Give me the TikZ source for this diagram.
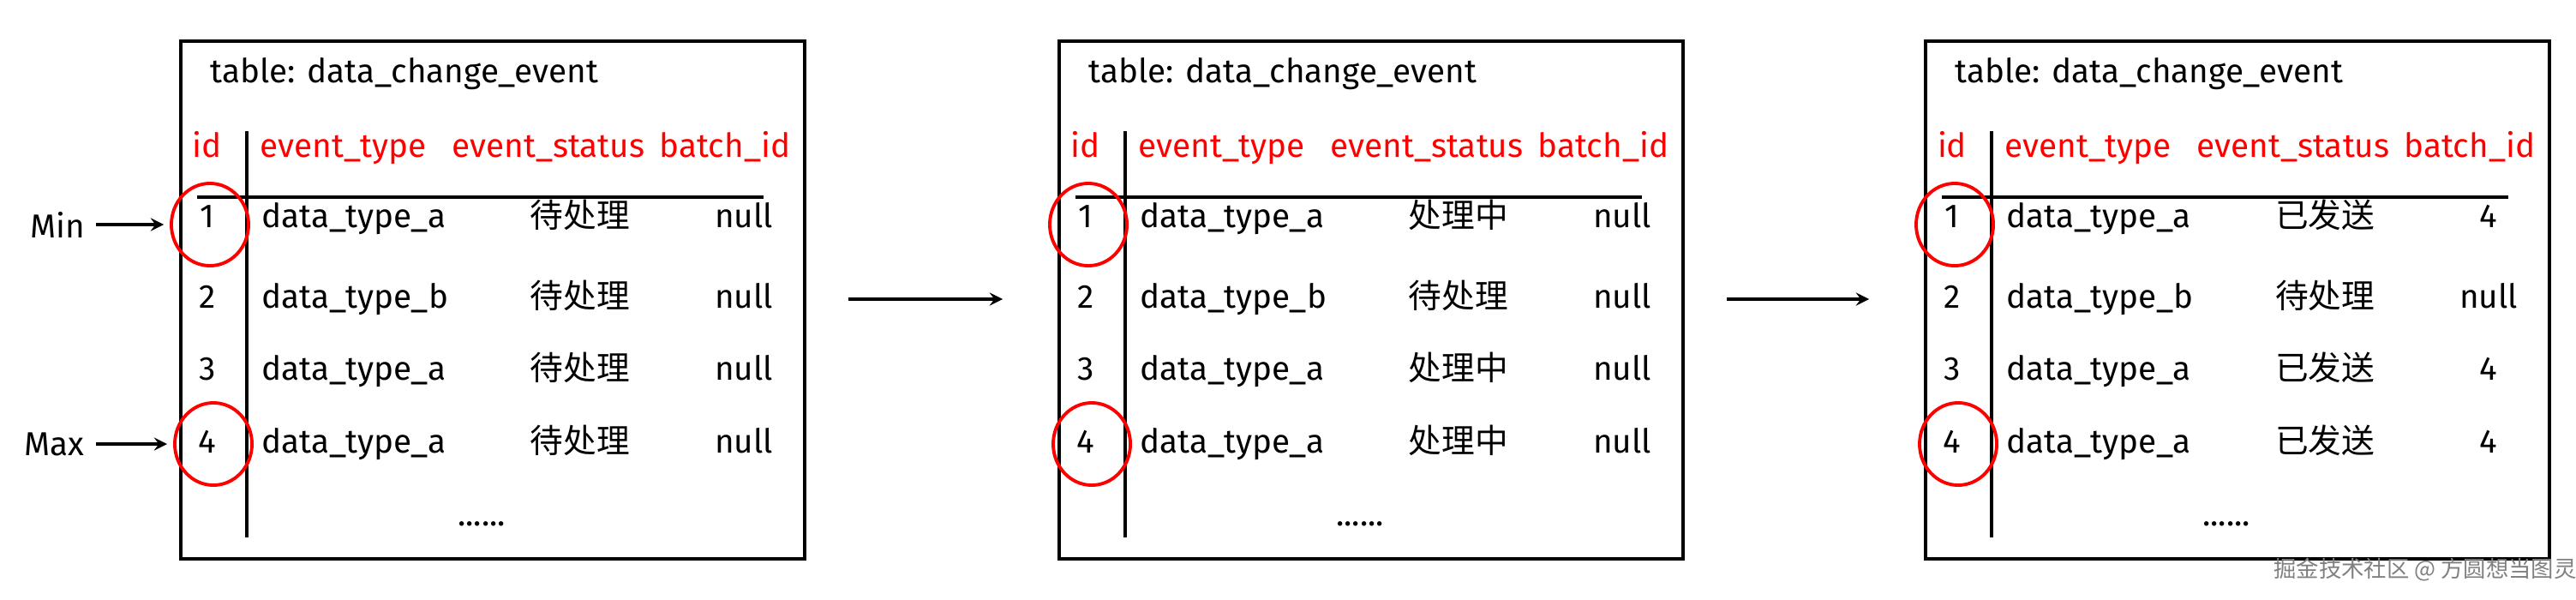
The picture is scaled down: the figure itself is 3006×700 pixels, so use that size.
\documentclass[tikz,border=0pt]{standalone}
\usepackage{fontspec}
\setmainfont{Fira Sans}
\newfontfamily\cjk{Noto Sans CJK SC}
\usetikzlibrary{positioning,shapes.geometric}

\tikzset{
  tbox/.style={draw, line width=1.3pt},
  rule/.style={line width=1.1pt},
  hdr/.style={text=red, anchor=base},
  cell/.style={anchor=base},
  idmark/.style={draw=red, line width=1.1pt, ellipse, minimum width=0.9cm, minimum height=0.96cm},
  pointer/.style={->, line width=0.9pt, >=stealth},
}

% one table, shifted by #1, nodes prefixed with #2, rows given as type/status/batch
\newcommand\evtable[3]{%
\begin{scope}[shift={(#1,0)}]
\draw [tbox] (211,48) rectangle (939,652);
\coordinate (#2in) at (145,349);
\coordinate (#2out) at (990,349);
\node [cell, anchor=base west] at (232,96) {table: data\_change\_event};
\node [hdr] at (242,183) {id};
\node [hdr, anchor=base west] at (290,183) {event\_type};
\node [hdr] at (640,183) {event\_status};
\node [hdr] at (846,183) {batch\_id};
\draw [rule] (288,153)--(288,627);
\draw [rule] (230,230)--(891,230);
\foreach \i/\t/\s/\b [count=\k] in {#3} {
  \pgfmathsetmacro\yy{{0,265,359,443,528}[\k]}
  \node [cell] at (242,\yy) {\i};
  \node [cell, anchor=base west] at (292,\yy) {data\_type\_\t};
  \node [cell] at (677,\yy) {\cjk\s};
  \node [cell] at (868,\yy) {\b};
}
\node [cell] at (562,613) {......};
\node [idmark] (#2min) at (245,262) {};
\node [idmark] (#2max) at (249,518) {};
\end{scope}}

\begin{document}
\fontsize{11}{13}\selectfont
\begin{tikzpicture}[x=0.01cm, y=-0.01cm]
\useasboundingbox (0,0) rectangle (3006,700);

% three snapshots of the table
\evtable{0}{ta}{1/a/待处理/null,2/b/待处理/null,3/a/待处理/null,4/a/待处理/null}
\evtable{1025}{tb}{1/a/处理中/null,2/b/待处理/null,3/a/处理中/null,4/a/处理中/null}
\evtable{2036}{tc}{1/a/已发送/4,2/b/待处理/null,3/a/已发送/4,4/a/已发送/4}

% Min / Max pointers
\node (min) at (67,262) {Min};
\node (max) at (63,518) {Max};
\draw [pointer] (min.east)--([xshift=-2pt]tamin.west|-min.east);
\draw [pointer] (max.east)--([xshift=-2pt]tamax.west|-max.east);

% steps between snapshots
\draw [pointer] (taout)--(tbin);
\draw [pointer] (tbout)--(tcin);

\node [text=gray, font=\cjk\fontsize{7.5}{9}\selectfont] (wm) at (2830,665) {掘金技术社区 @ 方圆想当图灵};
\end{tikzpicture}
\end{document}
